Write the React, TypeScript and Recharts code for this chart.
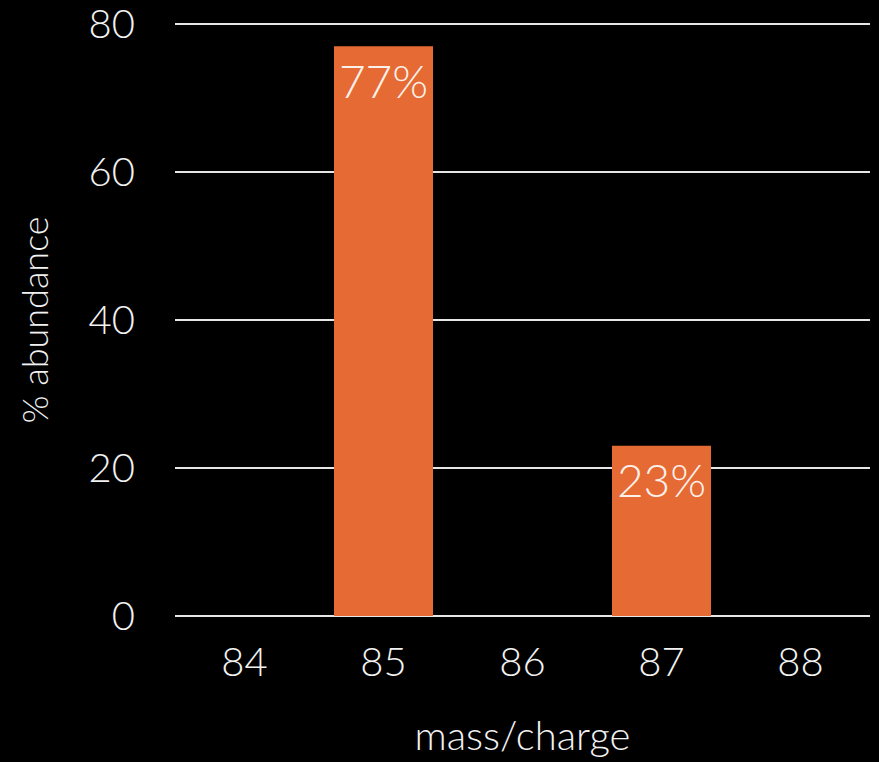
import React from 'react';
import { BarChart, Bar, XAxis, YAxis, CartesianGrid, LabelList } from 'recharts';

// Isotope masses on the x axis and their relative abundance (%)
const massCharge = ['84', '85', '86', '87', '88'];
const abundance = [0, 77, 0, 23, 0];
const yTicks = [0, 20, 40, 60, 80];

const data = massCharge.map((m, i) => ({ mass: m, abundance: abundance[i] }));

const FONT = 'Lato, "Open Sans", sans-serif';
const WEIGHT = 300;
const TEXT = '#f2f2f2';
const BAR = '#e66a34';

export default function App() {
  return (
    <div
      style={{
        position: 'fixed',
        left: 0,
        top: 0,
        width: 879,
        height: 762,
        background: '#000',
        fontFamily: FONT,
      }}
    >
      <BarChart
        width={879}
        height={762}
        data={data}
        margin={{ top: 24, right: 9, left: 0, bottom: 0 }}
        barSize={99}
      >
        <CartesianGrid vertical={false} stroke="#e6e6e6" strokeWidth={2} />
        <XAxis
          dataKey="mass"
          height={146}
          axisLine={false}
          tickLine={false}
          tickSize={0}
          tickMargin={32}
          tick={{ fill: TEXT, fontSize: 40, fontFamily: FONT, fontWeight: WEIGHT }}
          label={{
            value: 'mass/charge',
            position: 'insideBottom',
            offset: 12,
            fill: TEXT,
            fontSize: 40,
            fontFamily: FONT,
            fontWeight: WEIGHT,
          }}
        />
        <YAxis
          width={175}
          domain={[0, 80]}
          ticks={yTicks}
          axisLine={false}
          tickLine={false}
          tickSize={0}
          tickMargin={40}
          tick={{ fill: TEXT, fontSize: 40, fontFamily: FONT, fontWeight: WEIGHT }}
          label={{
            value: '% abundance',
            angle: -90,
            position: 'insideLeft',
            offset: 35,
            fill: TEXT,
            fontSize: 36,
            fontFamily: FONT,
            fontWeight: WEIGHT,
            style: { textAnchor: 'middle' },
          }}
        />
        <Bar dataKey="abundance" fill={BAR} isAnimationActive={false}>
          <LabelList
            dataKey="abundance"
            position="insideTop"
            offset={19}
            fill="#fbf1ea"
            fontSize={46}
            fontFamily={FONT}
            fontWeight={WEIGHT}
            formatter={(v: number) => (v > 0 ? `${v}%` : '')}
          />
        </Bar>
      </BarChart>
    </div>
  );
}
